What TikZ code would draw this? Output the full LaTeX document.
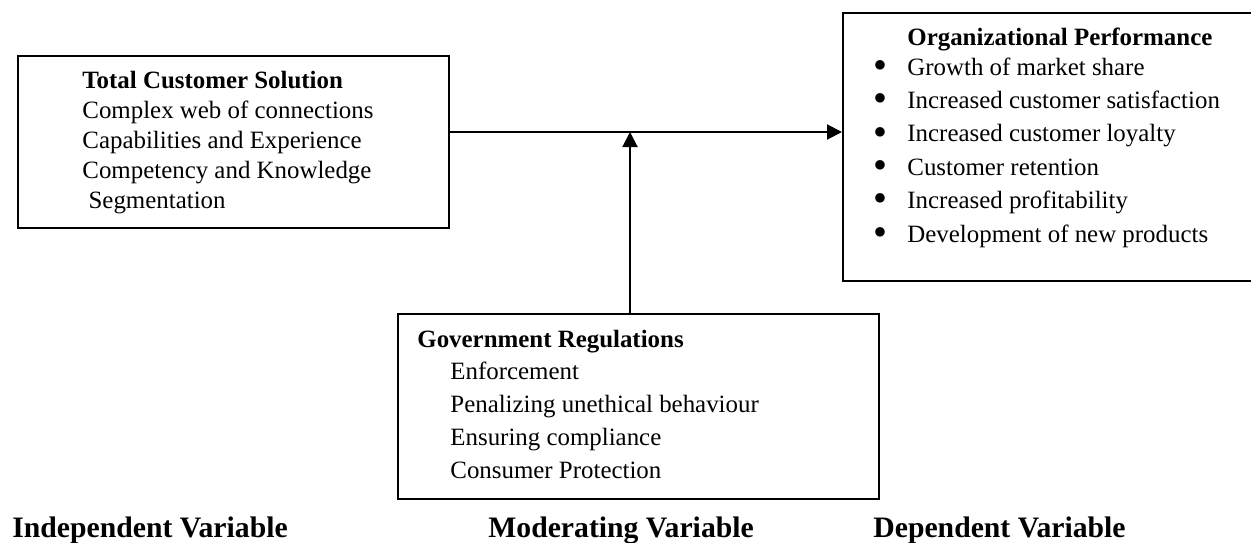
\documentclass[tikz,border=0pt]{standalone}
\usepackage{graphicx}
\usepackage{fontspec}
\setmainfont{Liberation Serif}
\usetikzlibrary{arrows.meta, positioning}

% bullet of the performance list
\newcommand{\perfdot}{\makebox[17pt][l]{\smash{\raisebox{-1.6pt}{\scalebox{1.6}{•}}}}}

\begin{document}
\begin{tikzpicture}[x=0.5pt, y=-0.5pt,
    box/.style={rectangle, draw=black, line width=1pt, inner sep=0pt,
                anchor=north west},
    head/.style={anchor=base west, inner sep=0pt,
                 font=\fontsize{12.45}{15}\selectfont\bfseries},
    items/.style={anchor=base west, inner sep=0pt, align=left,
                  font=\fontsize{12.45}{#1}\selectfont},
    varlabel/.style={anchor=base west, inner sep=0pt,
                     font=\fontsize{14.85}{18}\selectfont\bfseries},
    ar/.style={-{Triangle[length=7.5pt, width=7.5pt]}, line width=1pt}
]
\useasboundingbox (0,0) rectangle (1251,542);

% the three boxes
\node[box, minimum width=215.5pt, minimum height=86pt] (tcs) at (17,55) {};
\node[box, minimum width=205.5pt, minimum height=134pt] (perf) at (842,12) {};
\node[box, minimum width=240.5pt, minimum height=92.5pt] (gov) at (397,313) {};

% box texts (items placed by the baseline of their last line)
\node[head] (tcsHead) at (82,88) {Total Customer Solution};
\node[items=15] (tcsItems) at (82,208)
    {Complex web of connections\\Capabilities and Experience\\
     Competency and Knowledge\\~Segmentation};

\node[head] (perfHead) at (907,45) {Organizational Performance};
\node[items=16.7] (perfItems) at (873,242)
    {\perfdot Growth of market share\\
     \perfdot Increased customer satisfaction\\
     \perfdot Increased customer loyalty\\
     \perfdot Customer retention\\
     \perfdot Increased profitability\\
     \perfdot Development of new products};

\node[head] (govHead) at (417,347) {Government Regulations};
\node[items=16.4] (govItems) at (450,478)
    {Enforcement\\Penalizing unethical behaviour\\
     Ensuring compliance\\Consumer Protection};

% variable labels
\node[varlabel] (indep) at (12,537) {Independent Variable};
\node[varlabel] (moder) at (488,537) {Moderating Variable};
\node[varlabel] (dep) at (873,537) {Dependent Variable};

% connectors
\coordinate (meet) at (630,132);
\draw[ar] (tcs.east |- meet) -- (perf.west |- meet);
\draw[ar] (meet |- gov.north) -- (meet);
\end{tikzpicture}
\end{document}
